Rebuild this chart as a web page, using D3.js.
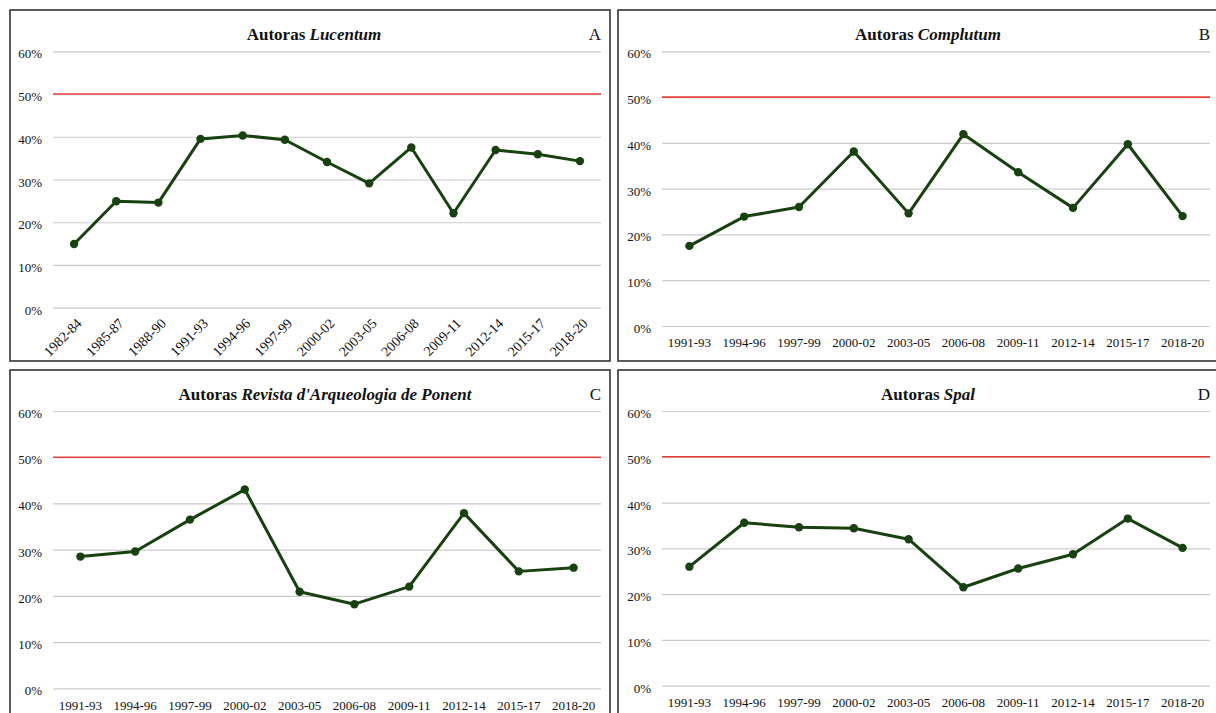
<!DOCTYPE html>
<html lang="es">
<head>
<meta charset="UTF-8">
<title>Autoras por revista</title>
<style>
  body { margin: 0; background: #fff; }
  svg { display: block; }
  text { font-family: "Liberation Serif", "Times New Roman", serif; fill: #111; }
  .tick text { font-size: 13px; }
  .rot .tick text { font-size: 14px; }
  .title { font-size: 17px; font-weight: bold; }
  .letter { font-size: 17px; }
</style>
</head>
<body>
<script src="https://d3js.org/d3.v7.min.js"></script>
<script>
// categories
var catsA = ["1982-84", "1985-87", "1988-90", "1991-93", "1994-96", "1997-99", "2000-02",
             "2003-05", "2006-08", "2009-11", "2012-14", "2015-17", "2018-20"];
var catsBCD = ["1991-93", "1994-96", "1997-99", "2000-02", "2003-05", "2006-08",
               "2009-11", "2012-14", "2015-17", "2018-20"];

// share of female authors
var valsA = [0.149, 0.249, 0.246, 0.395, 0.403, 0.393, 0.341, 0.291, 0.375, 0.221, 0.369, 0.359, 0.343];
var valsB = [0.175, 0.239, 0.260, 0.381, 0.246, 0.419, 0.336, 0.258, 0.397, 0.240];
var valsC = [0.285, 0.296, 0.365, 0.430, 0.209, 0.182, 0.220, 0.379, 0.253, 0.261];
var valsD = [0.260, 0.356, 0.346, 0.344, 0.320, 0.215, 0.256, 0.287, 0.365, 0.301];

var yTicks = [0, 0.1, 0.2, 0.3, 0.4, 0.5, 0.6];
var parity = 0.5;

var journals = ["Lucentum", "Complutum", "Revista d'Arqueologia de Ponent", "Spal"];
var letters = ["A", "B", "C", "D"];

var W = 1216, H = 713;
var svg = d3.select("body").append("svg").attr("width", W).attr("height", H);

// layout of the four panels (frame, plot area, title centre)
var panels = [
  { cats: catsA, vals: valsA, frame: [10, 10, 600, 351], plot: [53, 601, 51.3, 307.7], titleX: 314, titleY: 40, rotate: true },
  { cats: catsBCD, vals: valsB, frame: [618, 10, 620, 351], plot: [662, 1210, 51.3, 326], titleX: 928, titleY: 40, rotate: false },
  { cats: catsBCD, vals: valsC, frame: [10, 370, 600, 360], plot: [53, 601, 411, 688.3], titleX: 325, titleY: 400, rotate: false },
  { cats: catsBCD, vals: valsD, frame: [618, 370, 620, 360], plot: [662, 1210, 411, 685.7], titleX: 928, titleY: 400, rotate: false }
];

panels.forEach(function(p, i) {
  var g = svg.append("g");

  g.append("rect")
    .attr("x", p.frame[0]).attr("y", p.frame[1])
    .attr("width", p.frame[2]).attr("height", p.frame[3])
    .attr("fill", "none").attr("stroke", "#333").attr("stroke-width", 1.6);

  var x = d3.scaleBand().domain(p.cats).range([p.plot[0], p.plot[1]]);
  var y = d3.scaleLinear().domain([0, 0.6]).range([p.plot[3], p.plot[2]]);
  var w = p.plot[1] - p.plot[0];

  // y axis with gridlines
  var ya = g.append("g")
    .attr("transform", "translate(" + p.plot[0] + ",0)")
    .call(d3.axisLeft(y).tickValues(yTicks).tickFormat(d3.format(".0%"))
      .tickSize(-w).tickPadding(11));
  ya.select(".domain").remove();
  ya.selectAll(".tick line").attr("stroke", "#cbcbcb").attr("stroke-width", 1.2);
  ya.selectAll(".tick text").attr("dy", "0.5em");

  // 50% reference line
  g.append("line")
    .attr("x1", p.plot[0]).attr("x2", p.plot[1])
    .attr("y1", y(parity)).attr("y2", y(parity))
    .attr("stroke", "#e5403c").attr("stroke-width", 1.6);

  // x axis
  var xa = g.append("g")
    .attr("class", p.rotate ? "rot" : null)
    .attr("transform", "translate(0," + p.plot[3] + ")")
    .call(d3.axisBottom(x).tickSize(0).tickPadding(p.rotate ? 8 : 12));
  xa.select(".domain").remove();
  if (p.rotate) {
    xa.selectAll(".tick text")
      .attr("text-anchor", "end")
      .attr("dy", "0.35em")
      .attr("transform", "translate(5,13) rotate(-45)")
      .attr("y", 0);
  }

  var cx = function(d, j) { return x(p.cats[j]) + x.bandwidth() / 2; };

  g.append("path")
    .datum(p.vals)
    .attr("fill", "none")
    .attr("stroke", "#17420f")
    .attr("stroke-width", 3)
    .attr("stroke-linejoin", "round")
    .attr("d", d3.line().x(cx).y(function(d) { return y(d); }));

  g.selectAll("circle.pt")
    .data(p.vals)
    .enter().append("circle")
    .attr("class", "pt")
    .attr("cx", cx)
    .attr("cy", function(d) { return y(d); })
    .attr("r", 4.2)
    .attr("fill", "#17420f");

  var t = g.append("text").attr("class", "title")
    .attr("x", p.titleX).attr("y", p.titleY).attr("text-anchor", "middle");
  t.append("tspan").text("Autoras ");
  t.append("tspan").attr("font-style", "italic").text(journals[i]);

  g.append("text").attr("class", "letter")
    .attr("x", p.plot[1]).attr("y", p.titleY).attr("text-anchor", "end")
    .text(letters[i]);
});
</script>
</body>
</html>
